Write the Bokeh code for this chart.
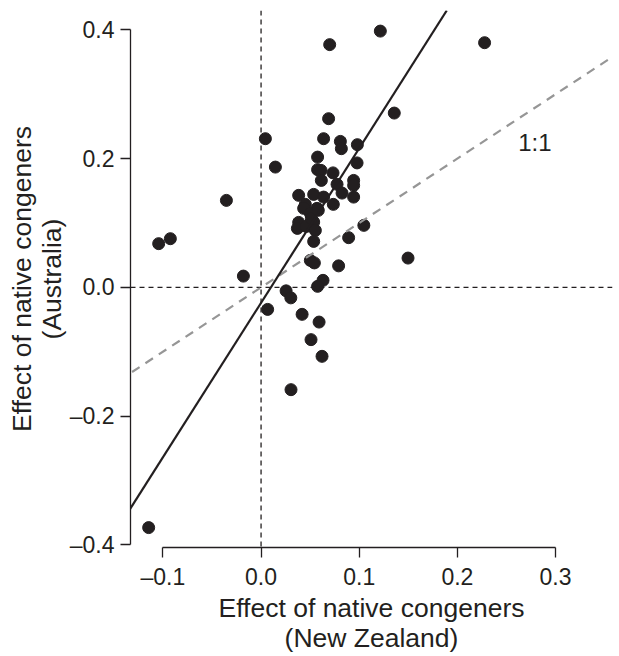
from bokeh.plotting import figure
from bokeh.models import Range1d, FixedTicker, Span, Slope, Label
from bokeh.embed import file_html
from bokeh.resources import INLINE

# Effect of native congeners (New Zealand, Australia)
nz_effect = [0.1215, 0.0699, 0.2277, 0.1357, 0.0044, 0.0688, 0.0637, 0.0808,
             0.0818, 0.0981, 0.0576, 0.0978, 0.0576, 0.0611, 0.0733, 0.0614,
             0.0774, 0.0943, 0.0943, 0.0825, 0.0943, 0.0383, 0.0536, 0.0637,
             0.0451, 0.0434, 0.0570, 0.0736, 0.0502, 0.0383, 0.0370, 0.0536,
             0.0461, 0.0553, 0.0536, 0.1047, 0.0892, 0.1497, 0.0502, 0.0543,
             0.0790, 0.0631, 0.0576, -0.0180, -0.0353, -0.0924, -0.1043,
             0.0255, 0.0303, 0.0067, 0.0418, 0.0591, 0.0509, 0.0621, 0.0305,
             -0.1145, 0.0146, 0.0512, 0.0583]
au_effect = [0.398, 0.377, 0.380, 0.2707, 0.2309, 0.262, 0.2309, 0.2267,
             0.2154, 0.2216, 0.2023, 0.1933, 0.1828, 0.1817, 0.1778, 0.1661,
             0.160, 0.1661, 0.1584, 0.1464, 0.1402, 0.1429, 0.1444, 0.1402,
             0.1289, 0.1227, 0.1227, 0.1289, 0.1149, 0.1009, 0.0916, 0.1014,
             0.0947, 0.0885, 0.0714, 0.0963, 0.0772, 0.0455, 0.0419, 0.0380,
             0.0334, 0.0109, 0.0016, 0.0175, 0.1351, 0.0756, 0.0679,
             -0.0054, -0.0163, -0.0342, -0.0419, -0.0539, -0.0812, -0.1071,
             -0.1589, -0.3731, 0.1868, 0.1071, 0.1196]

x_ticks = [-0.1, 0, 0.1, 0.2, 0.3]
x_tick_labels = ["\u20130.1", "0.0", "0.1", "0.2", "0.3"]
y_ticks = [-0.4, -0.2, 0, 0.2, 0.4]
y_tick_labels = ["\u20130.4", "\u20130.2", "0.0", "0.2", "0.4"]

fit_slope = 2.40
fit_intercept = -0.024
one_to_one_slope = 1.0
one_to_one_label = "1:1"

FONT = "Liberation Sans"
INK = "#231f20"

p = figure(width=619, height=656,
           x_range=Range1d(-0.133, 0.358), y_range=Range1d(-0.404, 0.430),
           output_backend="svg", toolbar_location=None,
           min_border_left=130, min_border_right=7, min_border_top=10,
           min_border_bottom=109)
p.outline_line_color = None
p.grid.visible = False
p.background_fill_color = "white"
p.border_fill_color = "white"

p.add_layout(Span(location=0, dimension="height", line_color=INK,
                  line_width=1.3, line_dash="5 4"))
p.add_layout(Span(location=0, dimension="width", line_color=INK,
                  line_width=1.3, line_dash="5 4"))
p.add_layout(Slope(gradient=one_to_one_slope, y_intercept=0,
                   line_color="#969696", line_width=2.2, line_dash="9 7"))
p.add_layout(Slope(gradient=fit_slope, y_intercept=fit_intercept,
                   line_color=INK, line_width=2.2))

p.scatter(nz_effect, au_effect, size=12, color=INK)

p.add_layout(Label(x=0.279, y=0.225, text=one_to_one_label,
                   text_align="center", text_baseline="middle",
                   text_font=FONT, text_font_size="24px", text_color=INK))

xa = p.xaxis[0]
xa.ticker = FixedTicker(ticks=x_ticks)
xa.major_label_overrides = dict(zip(x_ticks, x_tick_labels))
xa.bounds = (x_ticks[0], x_ticks[-1])
xa.axis_label = "Effect of native congeners\n(New Zealand)"

ya = p.yaxis[0]
ya.ticker = FixedTicker(ticks=y_ticks)
ya.major_label_overrides = dict(zip(y_ticks, y_tick_labels))
ya.bounds = (y_ticks[0], y_ticks[-1])
ya.axis_label = "Effect of native congeners\n(Australia)"

for ax in (xa, ya):
    ax.axis_line_color = INK
    ax.axis_line_width = 1.3
    ax.major_tick_line_color = INK
    ax.major_tick_line_width = 1.3
    ax.major_tick_out = 10
    ax.major_tick_in = 0
    ax.minor_tick_line_color = None
    ax.major_label_text_font = FONT
    ax.major_label_text_font_size = "23px"
    ax.major_label_text_color = INK
    ax.axis_label_text_font = FONT
    ax.axis_label_text_font_size = "26.5px"
    ax.axis_label_text_font_style = "normal"
    ax.axis_label_text_color = INK
    ax.axis_label_text_line_height = 1.0

xa.major_label_standoff = 6
xa.axis_label_standoff = 0
ya.major_label_standoff = 6
ya.axis_label_standoff = 0

open("out.html", "w").write(file_html(p, INLINE))
